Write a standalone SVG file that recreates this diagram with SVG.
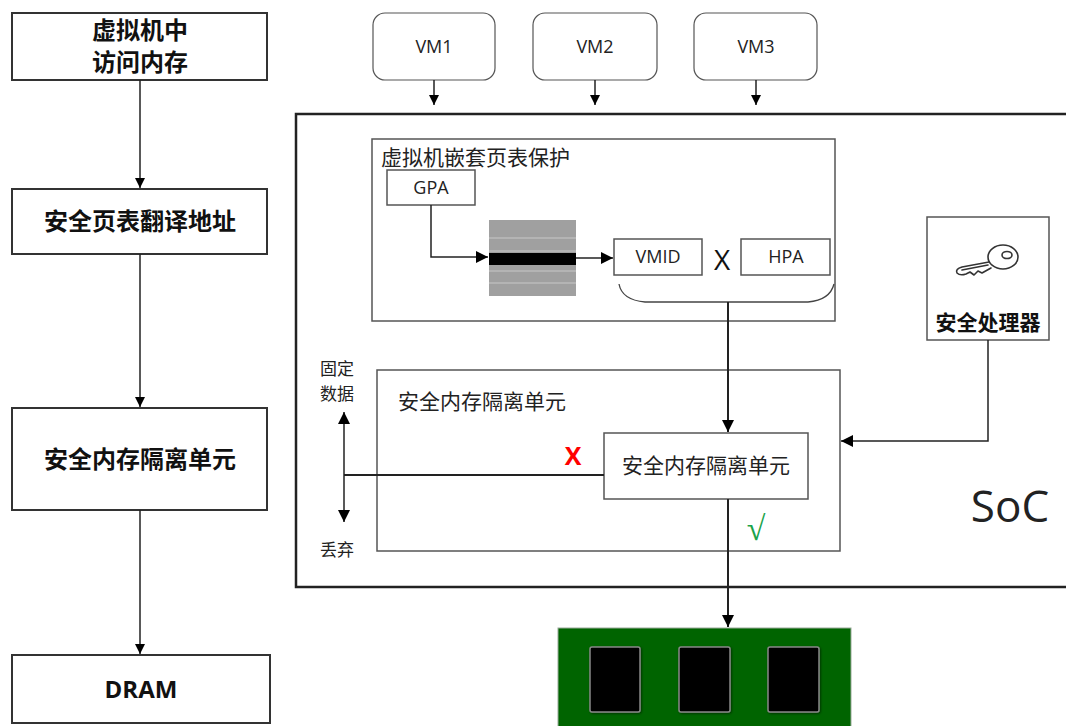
<svg xmlns="http://www.w3.org/2000/svg" width="1066" height="726" viewBox="0 0 1066 726">
  <defs>
    <marker id="arr" viewBox="0 0 10 10" refX="10" refY="5" markerWidth="10" markerHeight="10" markerUnits="userSpaceOnUse" orient="auto-start-reverse">
      <path d="M0,0 L10,5 L0,10 z" fill="#000"/>
    </marker>
    <marker id="arrL" viewBox="0 0 12 12" refX="12" refY="6" markerWidth="12" markerHeight="12" markerUnits="userSpaceOnUse" orient="auto-start-reverse">
      <path d="M0,0 L12,6 L0,12 z" fill="#000"/>
    </marker>
    <filter id="shadow" x="-20%" y="-20%" width="140%" height="140%">
      <feDropShadow dx="1" dy="1" stdDeviation="1" flood-color="#000" flood-opacity="0.5"/>
    </filter>
  </defs>
  <style>
    .flow { fill: #fff; stroke: #333; stroke-width: 2; }
    .box { fill: #fff; stroke: #555; stroke-width: 1.5; }
    .vm { fill: #fff; stroke: #555; stroke-width: 1.2; }
    .bold { font-family: "Noto Sans CJK SC", "Noto Sans", sans-serif; font-weight: bold; font-size: 24px; fill: #111; text-anchor: middle; }
    .cn { font-family: "Noto Sans CJK SC", sans-serif; font-size: 21px; fill: #222; }
    .side { font-family: "Noto Sans CJK SC", sans-serif; font-size: 17px; fill: #222; }
    .lat { font-family: "Open Sans", "Noto Sans", sans-serif; font-size: 18px; fill: #222; text-anchor: middle; }
    .wire { fill: none; stroke: #222; stroke-width: 1.5; }
    .chip { fill: #000; stroke: #888; stroke-width: 1.5; }
  </style>

  <rect width="1066" height="726" fill="#fff"/>

  <!-- left flow -->
  <g id="flow-access">
    <rect class="flow" x="12" y="13" width="255" height="67"/>
    <text class="bold" x="140" y="39">虚拟机中<tspan x="140" dy="32">访问内存</tspan></text>
  </g>
  <g id="flow-translate">
    <rect class="flow" x="12" y="189" width="255" height="65"/>
    <text class="bold" x="140" y="230">安全页表翻译地址</text>
  </g>
  <g id="flow-isolate">
    <rect class="flow" x="12" y="408" width="255" height="102"/>
    <text class="bold" x="140" y="468">安全内存隔离单元</text>
  </g>
  <g id="flow-dram">
    <rect class="flow" x="12" y="655" width="258" height="68"/>
    <text class="bold" x="141" y="698" style="font-family: 'Open Sans', sans-serif">DRAM</text>
  </g>

  <!-- virtual machines -->
  <g id="vm1">
    <rect class="vm" x="373" y="13" width="122" height="67" rx="12"/>
    <text class="lat" x="434" y="53">VM1</text>
  </g>
  <g id="vm2">
    <rect class="vm" x="533" y="13" width="124" height="67" rx="12"/>
    <text class="lat" x="595" y="53">VM2</text>
  </g>
  <g id="vm3">
    <rect class="vm" x="694" y="13" width="123" height="67" rx="12"/>
    <text class="lat" x="756" y="53">VM3</text>
  </g>

  <!-- SoC -->
  <g id="soc">
    <rect x="296" y="114" width="780" height="473" fill="#fff" stroke="#222" stroke-width="2.5"/>
    <text x="1010" y="522" font-family="Open Sans, Noto Sans, sans-serif" font-size="44" fill="#222" text-anchor="middle">SoC</text>
  </g>

  <!-- nested page table protection -->
  <g id="nested-pt">
    <rect class="box" x="372" y="139" width="463" height="182"/>
    <text class="cn" x="381" y="165">虚拟机嵌套页表保护</text>
  </g>
  <g id="gpa">
    <rect class="box" x="387" y="170" width="88" height="35"/>
    <text class="lat" x="431" y="194">GPA</text>
  </g>
  <g id="page-table">
    <rect x="489" y="220" width="87" height="76" fill="#a0a0a0"/>
    <g stroke="#c8c8c8" stroke-width="1">
      <line x1="489" y1="238" x2="576" y2="238"/>
      <line x1="489" y1="251" x2="576" y2="251"/>
      <line x1="489" y1="271" x2="576" y2="271"/>
      <line x1="489" y1="283" x2="576" y2="283"/>
    </g>
    <rect x="489" y="253" width="87" height="12" fill="#000"/>
  </g>
  <g id="vmid">
    <rect class="box" x="614" y="239" width="88" height="36"/>
    <text class="lat" x="658" y="263">VMID</text>
  </g>
  <text x="722" y="270" font-family="Open Sans, sans-serif" font-size="28" fill="#111" text-anchor="middle">X</text>
  <g id="hpa">
    <rect class="box" x="741" y="239" width="89" height="36"/>
    <text class="lat" x="786" y="263">HPA</text>
  </g>

  <!-- security processor -->
  <g id="sec-proc">
    <rect class="box" x="927" y="217" width="122" height="123"/>
    <g fill="none" stroke="#333" stroke-width="1.6" stroke-linecap="round" stroke-linejoin="round">
      <ellipse cx="1003" cy="257" rx="15" ry="12" fill="#fff"/>
      <ellipse cx="1007" cy="255" rx="5" ry="3.5"/>
      <path d="M989,262 L962,267 Q955,269 957,273 Q960,276 966,274 L970,272 L974,275 L978,271 L982,273 L991,268"/>
      <path d="M962,270 L988,265"/>
    </g>
    <text class="bold" x="988" y="330" style="font-size: 21px">安全处理器</text>
  </g>

  <!-- secure memory isolation unit -->
  <g id="iso-outer">
    <rect class="box" x="377" y="370" width="463" height="181"/>
    <text class="cn" x="398" y="409">安全内存隔离单元</text>
  </g>
  <g id="iso-inner">
    <rect class="box" x="604" y="433" width="204" height="66"/>
    <text class="cn" x="706" y="473" text-anchor="middle">安全内存隔离单元</text>
  </g>

  <text class="side" x="320" y="375">固定<tspan x="320" dy="25">数据</tspan></text>
  <text class="side" x="320" y="556">丢弃</text>
  <text x="573" y="465" font-family="Open Sans, sans-serif" font-size="25" font-weight="bold" fill="#f00" text-anchor="middle">X</text>
  <text x="756" y="540" font-family="Liberation Serif, serif" font-size="34" fill="#1aa34a" text-anchor="middle">√</text>

  <!-- DRAM module -->
  <g id="dram-module">
    <rect x="558" y="628" width="293" height="100" fill="#006400" stroke="#9a9" stroke-width="1"/>
    <rect class="chip" x="590" y="647" width="50" height="65" rx="2" filter="url(#shadow)"/>
    <rect class="chip" x="679" y="647" width="51" height="65" rx="2" filter="url(#shadow)"/>
    <rect class="chip" x="768" y="647" width="51" height="65" rx="2" filter="url(#shadow)"/>
  </g>

  <!-- connectors -->
  <g id="connectors" class="wire">
    <path d="M140,80 V188" marker-end="url(#arr)"/>
    <path d="M140,254 V407" marker-end="url(#arr)"/>
    <path d="M140,510 V654" marker-end="url(#arr)"/>
    <path d="M434,80 V105" marker-end="url(#arr)"/>
    <path d="M595,80 V105" marker-end="url(#arr)"/>
    <path d="M756,80 V105" marker-end="url(#arr)"/>
    <path d="M431,205 V257 H488" marker-end="url(#arrL)"/>
    <path d="M576,258 H613" marker-end="url(#arrL)"/>
    <path d="M619,284 Q622,300 645,302 H808 Q830,300 834,284" stroke="#444" stroke-width="1.3"/>
    <path d="M728,302 V432" stroke-width="2" marker-end="url(#arrL)"/>
    <path d="M988,340 V441 H841" marker-end="url(#arrL)"/>
    <path d="M604,475 H344" stroke-width="1.8"/>
    <path d="M344,412 V522" stroke-width="1.5" marker-start="url(#arrL)" marker-end="url(#arrL)"/>
    <path d="M728,499 V627" stroke-width="2" marker-end="url(#arrL)"/>
  </g>
</svg>
